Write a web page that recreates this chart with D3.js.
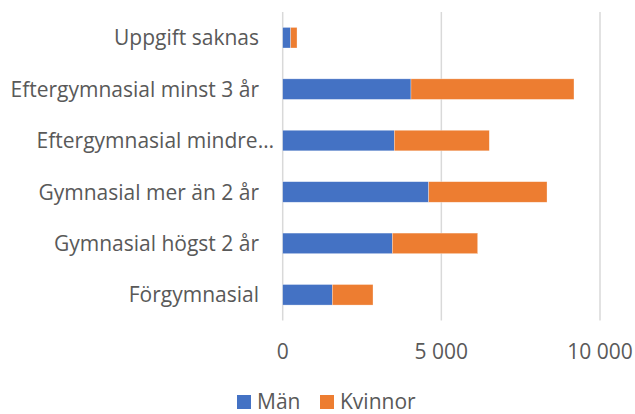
<!DOCTYPE html>
<html>
<head>
<meta charset="utf-8">
<script src="https://cdn.jsdelivr.net/npm/d3@7"></script>
<style>
  body { margin: 0; background: #fff; }
  text { font-family: "Open Sans", sans-serif; fill: #595959; font-size: 21px; }
</style>
</head>
<body>
<svg id="stage" width="635" height="414"></svg>
<script>
var svg = d3.select("#stage");

// data, top category first
var categories = ["Uppgift saknas", "Eftergymnasial minst 3 år", "Eftergymnasial mindre…",
                  "Gymnasial mer än 2 år", "Gymnasial högst 2 år", "Förgymnasial"];
var man    = [252, 4043, 3517, 4601, 3455, 1563];
var kvinna = [199, 5137, 2994, 3729, 2690, 1283];
var seriesNames = ["Män", "Kvinnor"];
var seriesColors = ["#4472C4", "#ED7D31"];
var tickValues = [0, 5000, 10000];

var rows = categories.map(function(c, i){
  return {cat: c, "Män": man[i], "Kvinnor": kvinna[i]};
});
var stacked = d3.stack().keys(seriesNames)(rows);

var x = d3.scaleLinear().domain([0, 10000]).range([282.7, 600]);
var y = d3.scaleBand().domain(categories).range([12, 320.5]).paddingInner(0.6).paddingOuter(0.3);

// gridlines
svg.append("g")
  .selectAll("line")
  .data(tickValues)
  .enter().append("line")
    .attr("x1", function(d){ return x(d); })
    .attr("x2", function(d){ return x(d); })
    .attr("y1", 12)
    .attr("y2", 320.5)
    .attr("stroke", "#d9d9d9")
    .attr("stroke-width", 1.5);

// bars
svg.append("g")
  .selectAll("g")
  .data(stacked)
  .enter().append("g")
    .attr("fill", function(d, i){ return seriesColors[i]; })
  .selectAll("rect")
  .data(function(d){ return d; })
  .enter().append("rect")
    .attr("x", function(d){ return x(d[0]); })
    .attr("width", function(d){ return x(d[1]) - x(d[0]); })
    .attr("y", function(d){ return y(d.data.cat); })
    .attr("height", y.bandwidth())
    .attr("stroke", "#fff")
    .attr("stroke-opacity", 0.5)
    .attr("stroke-width", 0.6);

// x tick labels
var fmt = function(d){ return d3.format(",")(d).replace(/,/g, " "); };
svg.append("g")
  .selectAll("text")
  .data(tickValues)
  .enter().append("text")
    .attr("x", function(d){ return x(d); })
    .attr("y", 359)
    .attr("text-anchor", "middle")
    .text(fmt);

// category labels (truncated label spills a bit further right, like excel does)
svg.append("g")
  .selectAll("text")
  .data(categories)
  .enter().append("text")
    .attr("x", function(d){ return /…$/.test(d) ? 274 : 259; })
    .attr("y", function(d){ return y(d) + y.bandwidth() / 2; })
    .attr("dy", "0.36em")
    .attr("text-anchor", "end")
    .text(function(d){ return d; });

// legend
var legendX = [237, 320];
var legend = svg.append("g")
  .selectAll("g")
  .data(seriesNames)
  .enter().append("g")
    .attr("transform", function(d, i){ return "translate(" + legendX[i] + ",395)"; });
legend.append("rect")
  .attr("width", 14).attr("height", 14)
  .attr("fill", function(d, i){ return seriesColors[i]; });
legend.append("text")
  .attr("x", 20).attr("y", 13.5)
  .text(function(d){ return d; });
</script>
</body>
</html>
